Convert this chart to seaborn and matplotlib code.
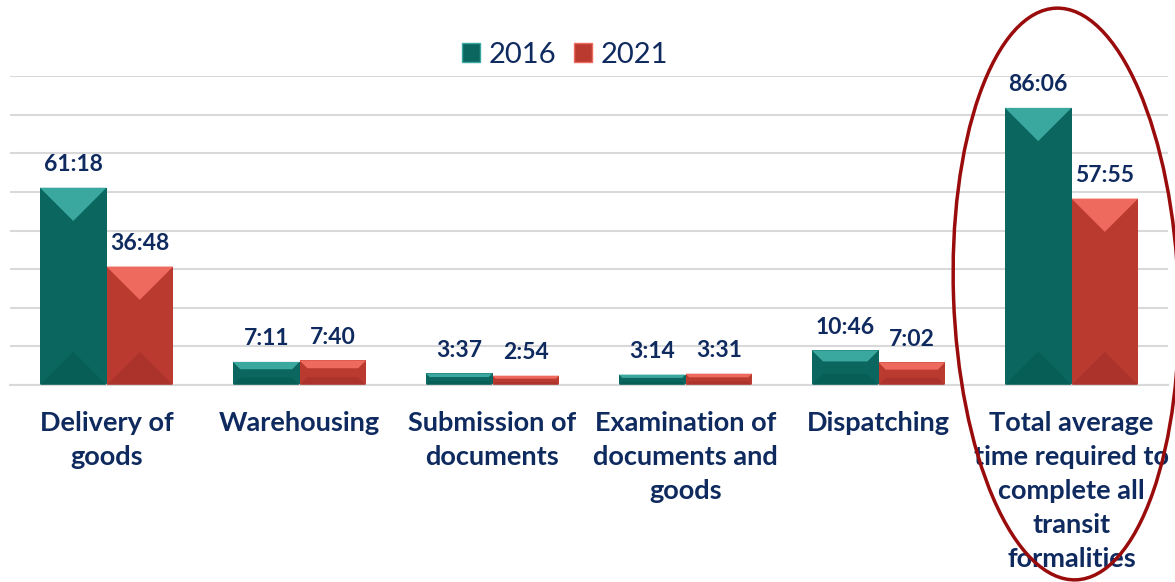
import numpy as np
import pandas as pd
import matplotlib
matplotlib.use("Agg")
import matplotlib.pyplot as plt
from matplotlib.patches import Polygon, Ellipse, Patch
import seaborn as sns

# ---- data ----
categories = ["Delivery of\ngoods", "Warehousing", "Submission of\ndocuments",
              "Examination of\ndocuments and\ngoods", "Dispatching",
              "Total average\ntime required to\ncomplete all\ntransit\nformalities"]
times_2016 = ["61:18", "7:11", "3:37", "3:14", "10:46", "86:06"]
times_2021 = ["36:48", "7:40", "2:54", "3:31", "7:02", "57:55"]
years = ["2016", "2021"]


def to_hours(s):
    h, m = s.split(":")
    return int(h) + int(m) / 60.0


hours_2016 = [to_hours(t) for t in times_2016]
hours_2021 = [to_hours(t) for t in times_2021]

df = pd.DataFrame({
    "Stage": categories * 2,
    "Year": [years[0]] * len(categories) + [years[1]] * len(categories),
    "Hours": hours_2016 + hours_2021,
})

# ---- style ----
sns.set_theme(style="white")
plt.rcParams["font.family"] = ["Lato", "DejaVu Sans"]
TXT = "#0f2a5f"
TEAL = "#0a665f"
RED = "#bb3a30"
TEAL_TOP = "#3aa89f"
RED_TOP = "#ee6a5e"
TEAL_BOT = "#055c56"
RED_BOT = "#a9322a"

W, H, DPI = 11.75, 5.82, 100
fig = plt.figure(figsize=(W, H), dpi=DPI)
ax = fig.add_axes([10 / 1175, 197 / 582, 1158 / 1175, 309 / 582])

sns.barplot(data=df, x="Stage", y="Hours", hue="Year", palette=[TEAL, RED],
            width=0.69, saturation=1, legend=False, ax=ax,
            edgecolor="none", linewidth=0)

ax.set_xlim(-0.5, len(categories) - 0.5)
ax.set_ylim(0, 96)
ax.set_yticks(np.arange(0, 97, 12))
ax.set_yticklabels([])
ax.tick_params(axis="y", length=0)
ax.yaxis.grid(True, color="#d9d9d9", linewidth=1.5)
ax.set_axisbelow(True)
for s in ["left", "right", "top"]:
    ax.spines[s].set_visible(False)
ax.spines["bottom"].set_color("#d9d9d9")
ax.spines["bottom"].set_linewidth(1.5)
ax.set_xlabel("")
ax.set_ylabel("")

ax.set_xticks(np.arange(len(categories)))
ax.set_xticklabels(categories, fontsize=19.5, fontweight="bold", color=TXT,
                   linespacing=1.49, va="top")
ax.set_xticks(np.arange(-0.5, len(categories)), minor=True)
ax.tick_params(axis="x", which="major", length=0, pad=19)
ax.tick_params(axis="x", which="minor", length=8, color="#d0d0d0", width=1.3)

# bevel facets derived from the drawn bars
fig.canvas.draw()
inv = ax.transData.inverted()
tops = [TEAL_TOP, RED_TOP]
bots = [TEAL_BOT, RED_BOT]
for ci, cont in enumerate(ax.containers):
    for bar in cont:
        x0, y0 = bar.get_x(), bar.get_y()
        w, h = bar.get_width(), bar.get_height()
        (px0, py0) = ax.transData.transform((x0, y0))
        (px1, py1) = ax.transData.transform((x0 + w, y0 + h))
        wpx, hpx = px1 - px0, py1 - py0
        d = min(wpx / 2.0, 0.32 * hpx)
        topc = [(px0, py1), (px1, py1), (px1 - d, py1 - d), (px0 + d, py1 - d)]
        botc = [(px0, py0), (px1, py0), (px1 - d, py0 + d), (px0 + d, py0 + d)]
        ax.add_patch(Polygon(inv.transform(topc), closed=True, facecolor=tops[ci],
                             edgecolor="none", zorder=3))
        ax.add_patch(Polygon(inv.transform(botc), closed=True, facecolor=bots[ci],
                             edgecolor="none", zorder=3, alpha=0.8))

# value labels
for cont, labs in zip(ax.containers, [times_2016, times_2021]):
    ax.bar_label(cont, labels=labs, padding=9, fontsize=16.5, fontweight="bold",
                 color=TXT)

# legend
handles = [Patch(facecolor=TEAL, edgecolor=TEAL_TOP, label=years[0]),
           Patch(facecolor=RED, edgecolor=RED_TOP, label=years[1])]
fig.legend(handles=handles, loc="center", bbox_to_anchor=(565 / 1175, 1 - 55 / 582),
           ncol=2, frameon=False, fontsize=21, labelcolor=TXT,
           handlelength=0.62, handleheight=0.62, handletextpad=0.3,
           columnspacing=0.6)

# highlight ellipse around the total
fig.add_artist(Ellipse((10.66, (582 - 294) / 100), 2.25, 5.72, angle=2,
                       transform=fig.dpi_scale_trans, fill=False,
                       edgecolor="#9a0c0c", linewidth=2.5, clip_on=False))

fig.savefig("out.png", dpi=DPI)
